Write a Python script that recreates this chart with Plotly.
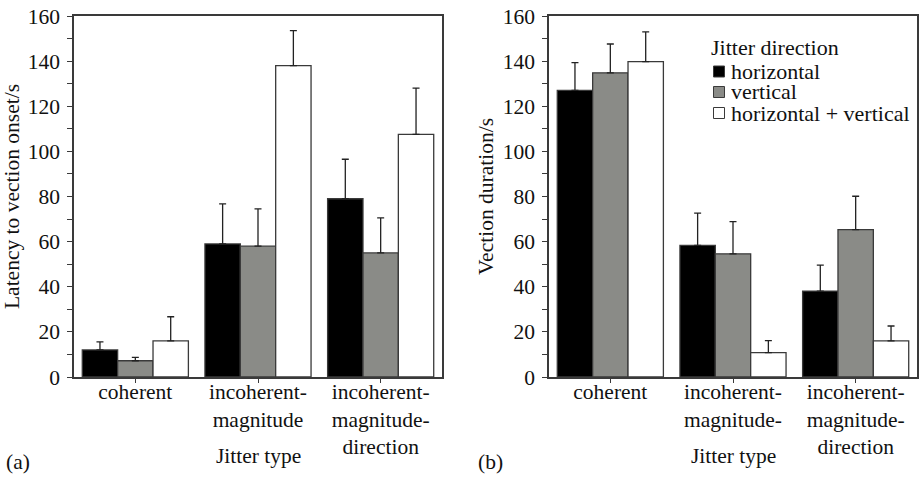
import plotly.graph_objects as go

W, H = 919, 478

categories_a = ["coherent", "incoherent-<br>magnitude", "incoherent-<br>magnitude-<br>direction"]
categories_b = ["coherent", "incoherent-<br>magnitude-", "incoherent-<br>magnitude-<br>direction"]
series_names = ["horizontal", "vertical", "horizontal + vertical"]
series_colors = ["#000000", "#8a8b87", "#ffffff"]

# (a) latency to vection onset (s)
latency_h = [12.0, 59.0, 79.0]
latency_v = [7.2, 58.0, 55.0]
latency_hv = [16.0, 138.0, 107.5]
latency_err_h = [3.6, 17.7, 17.5]
latency_err_v = [1.5, 16.5, 15.5]
latency_err_hv = [10.7, 15.5, 20.5]

# (b) vection duration (s)
duration_h = [127.0, 58.3, 38.1]
duration_v = [134.8, 54.6, 65.3]
duration_hv = [139.8, 10.8, 16.0]
duration_err_h = [12.3, 14.3, 11.5]
duration_err_v = [12.8, 14.3, 14.8]
duration_err_hv = [13.2, 5.3, 6.6]

y_ticks = [0, 20, 40, 60, 80, 100, 120, 140, 160]

FONT = "Liberation Serif"
TXT = "#111111"
LINE = "#3a3a3a"
FS = 21.5
FS_LEG = 22

def px(x):
    return x / W

def py(y):
    return (H - y) / H

fig = go.Figure()

panel_a = [(latency_h, latency_err_h), (latency_v, latency_err_v), (latency_hv, latency_err_hv)]
panel_b = [(duration_h, duration_err_h), (duration_v, duration_err_v), (duration_hv, duration_err_hv)]

for (vals, errs), name, col in zip(panel_a, series_names, series_colors):
    fig.add_trace(go.Bar(
        x=categories_a, y=vals, name=name, showlegend=False,
        marker=dict(color=col, line=dict(color=LINE, width=1.3)),
        error_y=dict(type="data", symmetric=False, array=errs, arrayminus=[0] * len(errs),
                     color="#222222", thickness=1.3, width=3.5),
        xaxis="x", yaxis="y"))

for (vals, errs), name, col in zip(panel_b, series_names, series_colors):
    fig.add_trace(go.Bar(
        x=categories_b, y=vals, name=name, showlegend=False,
        marker=dict(color=col, line=dict(color=LINE, width=1.3)),
        error_y=dict(type="data", symmetric=False, array=errs, arrayminus=[0] * len(errs),
                     color="#222222", thickness=1.3, width=3.5),
        xaxis="x2", yaxis="y2"))

yax_common = dict(
    range=[0, 160], tickvals=y_ticks, ticks="outside", ticklen=5, tickwidth=1.2,
    tickcolor=LINE, showline=True, mirror=True, linecolor=LINE, linewidth=1.5,
    showgrid=False, zeroline=False, tickfont=dict(family=FONT, size=FS, color=TXT),
    ticklabelstandoff=3,
    minor=dict(dtick=10, ticks="outside", ticklen=5, tickwidth=1.2, tickcolor=LINE, showgrid=False),
)
xax_common = dict(
    ticks="outside", ticklen=4, tickwidth=1.2, tickcolor=LINE, showline=True, mirror=True,
    linecolor=LINE, linewidth=1.5, showgrid=False, zeroline=False,
    tickfont=dict(family=FONT, size=FS, color=TXT), ticklabelstandoff=-10,
)

fig.update_layout(
    width=W, height=H, autosize=False, margin=dict(l=0, r=0, t=0, b=0, autoexpand=False),
    paper_bgcolor="white", plot_bgcolor="white",
    barmode="group", bargap=0.135, bargroupgap=0,
    font=dict(family=FONT, size=FS, color=TXT),
    xaxis=dict(domain=[px(74), px(442)], anchor="y", **xax_common),
    yaxis=dict(domain=[py(377), py(16)], anchor="x",
               title=dict(text="Latency to vection onset/s", font=dict(family=FONT, size=FS, color=TXT), standoff=5),
               **yax_common),
    xaxis2=dict(domain=[px(549), px(917)], anchor="y2", **xax_common),
    yaxis2=dict(domain=[py(377), py(16)], anchor="x2",
                title=dict(text="Vection duration/s", font=dict(family=FONT, size=FS, color=TXT), standoff=3),
                **yax_common),
)

# x-axis titles
for cx in [(74 + 442) / 2, (549 + 917) / 2]:
    fig.add_annotation(text="Jitter type", x=px(cx), y=py(456), xref="paper", yref="paper",
                       xanchor="center", yanchor="middle", showarrow=False,
                       font=dict(family=FONT, size=FS, color=TXT))

# panel labels
fig.add_annotation(text="(a)", x=px(4), y=py(462), xref="paper", yref="paper",
                   xanchor="left", yanchor="middle", showarrow=False,
                   font=dict(family=FONT, size=FS, color=TXT))
fig.add_annotation(text="(b)", x=px(476), y=py(462), xref="paper", yref="paper",
                   xanchor="left", yanchor="middle", showarrow=False,
                   font=dict(family=FONT, size=FS, color=TXT))

# legend (drawn inside panel b)
fig.add_annotation(text="Jitter direction", x=px(709), y=py(47), xref="paper", yref="paper",
                   xanchor="left", yanchor="middle", showarrow=False, height=22,
                   font=dict(family=FONT, size=FS_LEG, color=TXT))
row_y = [71.5, 92.0, 113.0]
for name, col, yy in zip(series_names, series_colors, row_y):
    fig.add_shape(type="rect", xref="paper", yref="paper",
                  x0=px(713.5), x1=px(724.5), y0=py(yy + 5.5), y1=py(yy - 5.5),
                  fillcolor=col, line=dict(color=LINE, width=1))
    fig.add_annotation(text=name, x=px(729), y=py(yy), xref="paper", yref="paper",
                       xanchor="left", yanchor="middle", showarrow=False, height=19,
                       font=dict(family=FONT, size=FS_LEG, color=TXT))

fig.write_html(
    "out.html",
    config={"responsive": False, "displayModeBar": False},
    post_script="document.body.style.margin='0px';document.body.style.overflow='hidden';",
)
